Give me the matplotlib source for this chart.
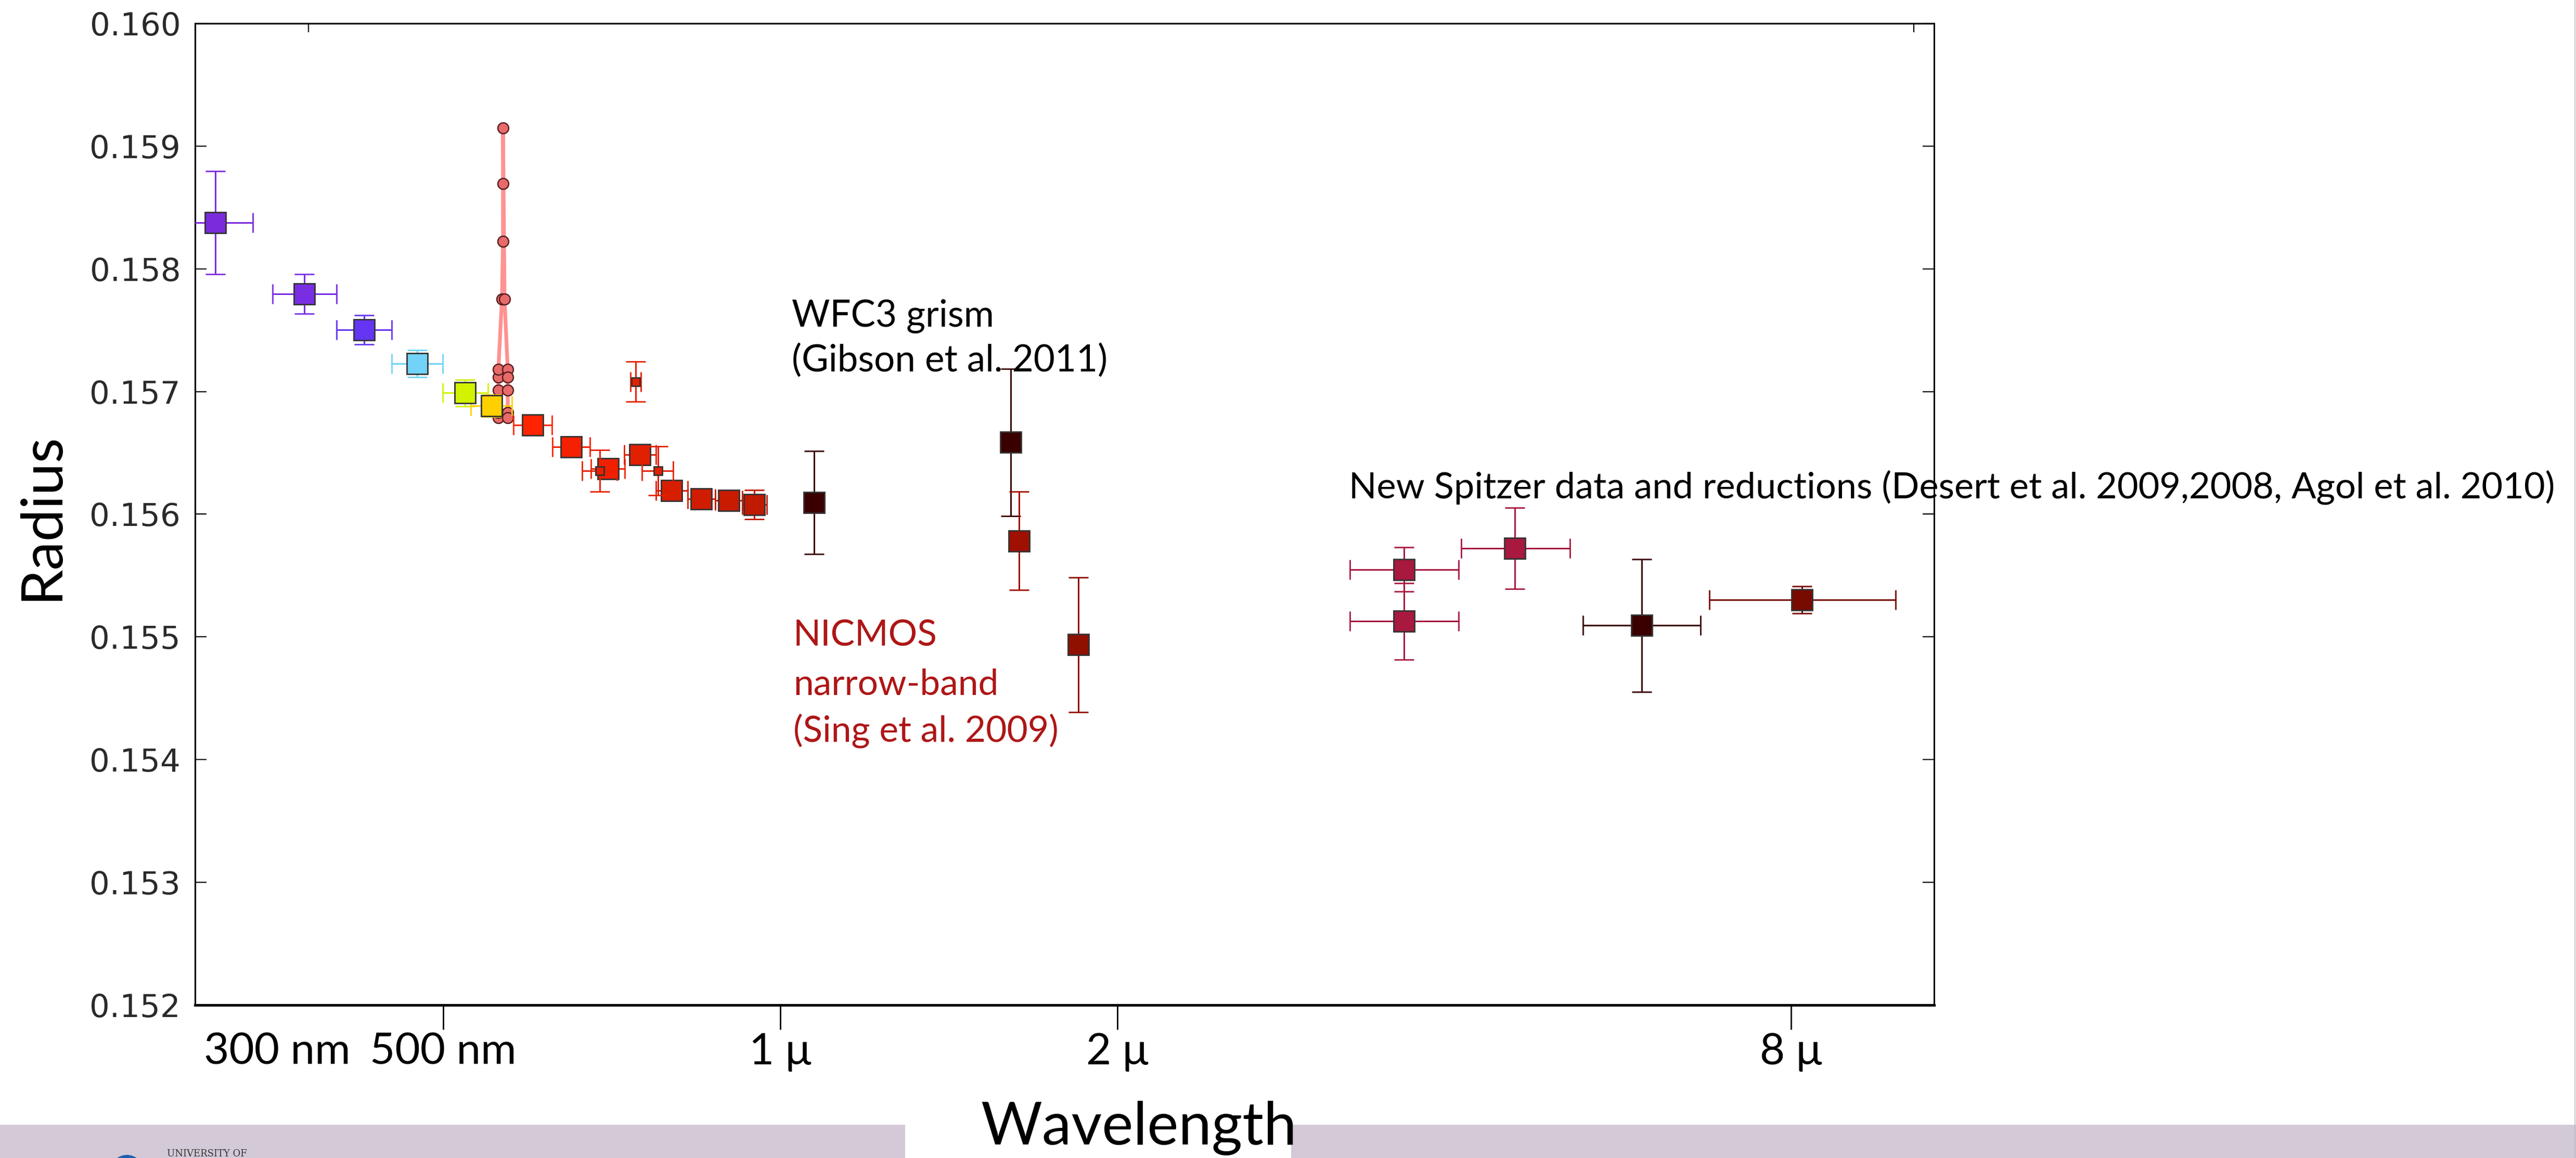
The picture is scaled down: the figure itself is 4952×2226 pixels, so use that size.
import numpy as np
import matplotlib
matplotlib.use('Agg')
import matplotlib.pyplot as plt
from matplotlib.patches import Rectangle, Ellipse
from matplotlib.lines import Line2D
from matplotlib.ticker import NullLocator, FixedLocator, FixedFormatter

# ====== data (wavelength in micron) ======
# broadband squares: STIS/ACS, WFC3, NICMOS, Spitzer
wave = [0.3127, 0.3757, 0.4247, 0.474, 0.5227, 0.552, 0.6008, 0.6507, 0.7021,
        0.7495, 0.7994, 0.8498, 0.900, 0.9482, 1.072, 1.607, 1.634, 1.846,
        3.608, 3.608, 4.532, 5.888, 8.18]
radius = [0.158375, 0.157796, 0.157503, 0.157228, 0.156988, 0.156884, 0.156727,
          0.156549, 0.15637, 0.156487, 0.156194, 0.156127, 0.156111, 0.156078,
          0.156097, 0.156586, 0.155783, 0.154936, 0.155549, 0.155127, 0.155722,
          0.155093, 0.155301]
wave_lo = [0.0253, 0.0239, 0.0234, 0.0242, 0.0232, 0.023, 0.0235, 0.0251, 0.025,
           0.0242, 0.0253, 0.0235, 0.0249, 0.0235, 0, 0, 0, 0,
           0.379, 0.379, 0.471, 0.673, 1.417]
wave_hi = [0.0253, 0.0256, 0.0251, 0.0255, 0.0253, 0.0237, 0.0243, 0.0255, 0.024,
           0.0252, 0.0269, 0.0253, 0.0247, 0.024, 0, 0, 0, 0,
           0.432, 0.432, 0.546, 0.757, 1.74]
radius_err = [0.00042, 0.00016, 0.00012, 0.00011, 0.00011, 0.00009, 0.00004,
              0.00004, 0.00005, 0.00005, 0.00005, 0.00004, 0.00005, 0.00012,
              0.00042, 0.0006, 0.0004, 0.00055, 0.00018, 0.00031, 0.00033,
              0.00054, 0.00011]
colors = ['#7B2BDB', '#7A2EE3', '#6435F2', '#72D2F8', '#D2F200', '#FFD000',
          '#FF2400', '#F52000', '#F02000', '#E02000', '#D81E00', '#D01C00',
          '#C81B00', '#C01A00', '#3A0000', '#3A0000', '#A01000', '#901000',
          '#A8183F', '#A8183F', '#A8183F', '#3A0000', '#780A00']

# small squares
small_wave = [0.6899, 0.7429, 0.7773]
small_radius = [0.156353, 0.157081, 0.156353]
small_wave_err = [0.025, 0.008, 0.0247]
small_radius_err = [0.00017, 0.000163, 0.0002]
small_colors = ['#E82000', '#E52000', '#E52000']

# sodium line, high resolution bins
na_wave = [0.5599, 0.5599, 0.5599, 0.5599, 0.5599, 0.5641, 0.5653, 0.5653,
           0.5653, 0.5671, 0.5708, 0.5708, 0.5708, 0.5708, 0.5708]
na_radius = [0.156787, 0.156828, 0.157012, 0.157116, 0.157179, 0.157753,
             0.158224, 0.158693, 0.159147, 0.157753, 0.157179, 0.157116,
             0.157012, 0.156828, 0.156787]

xtick_vals = [0.5, 1, 2, 8]
xtick_labels = ['500 nm', '1 μ', '2 μ', '8 μ']
top_tick_vals = [0.379, 10.3]
ytick_vals = [0.152, 0.153, 0.154, 0.155, 0.156, 0.157, 0.158, 0.159, 0.160]

W, H = 4952, 2226
fig = plt.figure(figsize=(W / 200, H / 200), dpi=200)
fig.patch.set_facecolor('white')
ax = fig.add_axes([375 / W, 1 - 1932 / H, (3718 - 375) / W, (1932 - 45) / H])

# sodium spectrum
ax.plot(na_wave, na_radius, '-', color='#FF7F7F', lw=2.6, alpha=0.85, zorder=3)
ax.plot(na_wave, na_radius, 'o', ms=7.5, mfc='#E86A6A', mec='#5A2020', mew=0.9, zorder=4)

for i in range(len(wave)):
    ax.errorbar(wave[i], radius[i], yerr=radius_err[i],
                xerr=[[wave_lo[i]], [wave_hi[i]]], fmt='s', ms=14.4,
                mfc=colors[i], mec='#333333', mew=1.0, ecolor=colors[i],
                elinewidth=1.1, capsize=7, capthick=1.1, zorder=5)

for i in range(len(small_wave)):
    ax.errorbar(small_wave[i], small_radius[i], yerr=small_radius_err[i],
                xerr=small_wave_err[i], fmt='s', ms=6, mfc=small_colors[i],
                mec='#333333', mew=1.0, ecolor=small_colors[i],
                elinewidth=1.1, capsize=7, capthick=1.1, zorder=6)

ax.set_xscale('log')
ax.set_xlim(0.3, 10.74)
ax.set_ylim(0.152, 0.160)
ax.xaxis.set_major_locator(FixedLocator(xtick_vals))
ax.xaxis.set_major_formatter(FixedFormatter(xtick_labels))
ax.xaxis.set_minor_locator(NullLocator())
ax.set_yticks(ytick_vals)
ax.set_yticklabels([f'{v:.3f}' for v in ytick_vals])

ax.tick_params(axis='y', direction='in', length=8, width=0.8, left=True,
               right=True, labelsize=22, labelcolor='#2a2a2a', pad=10)
ax.tick_params(axis='x', direction='out', length=17, width=1.0, top=False,
               labelsize=30, labelfontfamily='Lato', pad=2)
for s in ['left', 'top', 'right']:
    ax.spines[s].set_linewidth(1.1)
ax.spines['bottom'].set_linewidth(1.8)

# leftover ticks of the original plot on the top edge
top = ax.secondary_xaxis('top')
top.xaxis.set_major_locator(FixedLocator(top_tick_vals))
top.xaxis.set_minor_locator(NullLocator())
top.tick_params(direction='in', length=6, width=0.8, labeltop=False)
top.spines['top'].set_visible(False)

ax.annotate('300 nm', xy=((533 - 375) / (3718 - 375), 0), xycoords='axes fraction',
            xytext=(0, -19), textcoords='offset points',
            family='Lato', fontsize=30, ha='center', va='top')

# slide annotations
fig.text(80 / W, 1 - 992 / H, 'Radius', family='Lato', fontsize=40,
         rotation=90, ha='center', va='center')
fig.text(2189 / W, 1 - 2200 / H, 'Wavelength', family='Lato', fontsize=41,
         ha='center', va='baseline')

wfc3_lines = ['WFC3 grism', '(Gibson et al. 2011)']
for line, yb in zip(wfc3_lines, [628, 714]):
    fig.text(1522 / W, 1 - yb / H, line, family='Lato', fontsize=25.5,
             color='black', va='baseline')
nicmos_lines = ['NICMOS', 'narrow-band', '(Sing et al. 2009)']
for line, yb in zip(nicmos_lines, [1242, 1336, 1425]):
    fig.text(1525 / W, 1 - yb / H, line, family='Lato', fontsize=25,
             color='#AE1616', va='baseline')
fig.text(2593 / W, 1 - 957 / H,
         'New Spitzer data and reductions (Desert et al. 2009,2008, Agol et al. 2010)',
         family='Lato', fontsize=25.3, color='black', va='baseline')

# slide footer band
band = '#D3C9D7'
fig.add_artist(Rectangle((0, 0), 1740 / W, 64 / H, transform=fig.transFigure,
                         facecolor=band, edgecolor='none'))
fig.add_artist(Rectangle((2482 / W, 0), 1 - 2482 / W, 64 / H,
                         transform=fig.transFigure, facecolor=band, edgecolor='none'))
fig.add_artist(Ellipse((244 / W, 1 - 2252 / H), 64 / W, 64 / H,
                       transform=fig.transFigure, facecolor='#1F5FAF', edgecolor='none'))
fig.text(321 / W, 1 - 2223 / H, 'UNIVERSITY OF', family='DejaVu Serif',
         fontsize=6.5, color='#333333', va='baseline')
fig.add_artist(Line2D([0.9995, 0.9995], [0, 1], transform=fig.transFigure,
                      color='#BBBBBB', lw=0.6))

fig.savefig('out.png', dpi=200)
